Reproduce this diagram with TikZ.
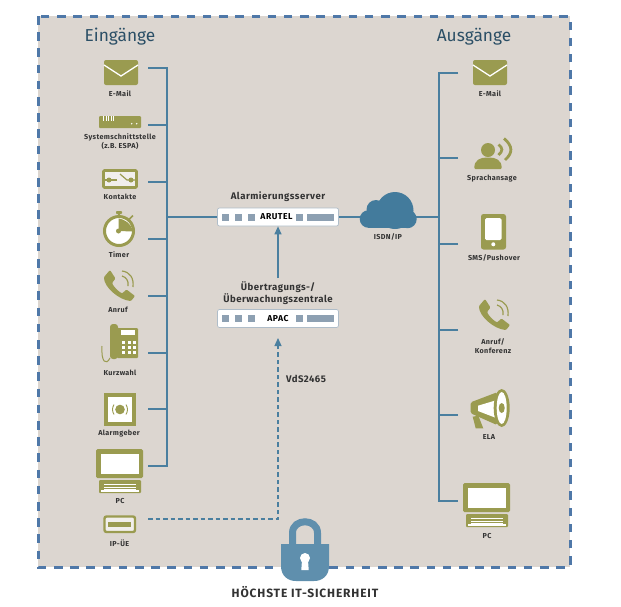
\documentclass[tikz,border=0pt]{standalone}
\usepackage{fontspec}
\setmainfont{Fira Sans}
\usetikzlibrary{arrows.meta}
\definecolor{bgcol}{HTML}{DCD6D0}
\definecolor{framecol}{HTML}{4F78A8}
\definecolor{linkcol}{HTML}{4A7F9F}
\definecolor{iconcol}{HTML}{9A9B50}
\definecolor{lockcol}{HTML}{5F8FAD}
\definecolor{cloudcol}{HTML}{437B9C}
\definecolor{titlecol}{HTML}{2B4F66}
\definecolor{slotcol}{HTML}{8DA0B2}
\definecolor{textcol}{HTML}{333333}
\tikzset{
    link/.style={draw=linkcol, line width=1.2pt},
    title/.style={font=\fontsize{17.3}{18}\selectfont, text=titlecol, inner sep=0pt},
    lab/.style={font=\fontsize{7.2}{9}\selectfont\bfseries\addfontfeature{LetterSpace=5}, text=textcol, align=center, inner sep=0pt, yshift=-0.8pt},
    midlab/.style={font=\fontsize{9.6}{11}\selectfont\bfseries\addfontfeature{LetterSpace=5}, text=textcol, align=center, inner sep=0pt, yshift=-1pt},
    server/.style={draw=slotcol!70, line width=0.7pt, fill=white, rounded corners=2pt, minimum width=121pt, minimum height=18pt, inner sep=0pt, font=\fontsize{8.6}{9}\selectfont\bfseries\addfontfeature{LetterSpace=6}},
    slots/.pic={
        \fill[slotcol] (-56,-3.5) rectangle ++(7,7);
        \fill[slotcol] (-43,-3.5) rectangle ++(7,7);
        \fill[slotcol] (-30,-3.5) rectangle ++(7,7);
        \fill[slotcol] (18,-3.5) rectangle ++(7,7);
        \fill[slotcol] (29,-3.5) rectangle ++(27,7);
    },
    mailicon/.pic={
        \fill[iconcol, rounded corners=2pt] (0,0) rectangle (34,25);
        \draw[white, line width=1.3pt] (0,5) -- (17,16) -- (34,5);
    },
    phoneicon/.pic={
        \fill[iconcol, rounded corners=1pt] (6,0) -- (11.5,8.5) -- (8,13) .. controls (10,17) and (14,21) .. (18,23.5)
            -- (22.5,19.5) -- (31,26) -- (27,31) .. controls (15,30) and (0,17) .. (0,7) -- cycle;
        \draw[iconcol, line width=1.2pt] (18,1) .. controls (26,2) and (30,8) .. (29,17);
        \draw[iconcol, line width=1.2pt] (18,6) .. controls (22,7) and (25,11) .. (24,16);
    },
    pcicon/.pic={
        \fill[iconcol, rounded corners=1.5pt] (0,0) rectangle (47,29);
        \fill[white] (4.5,4.5) rectangle (42.5,25);
        \fill[iconcol, rounded corners=1pt] (3,31) rectangle (45,44);
        \fill[white] (8,35) rectangle (40,36);
        \fill[white] (8,37.5) rectangle (40,38.5);
        \fill[white] (8,40) rectangle (40,41);
        \fill[white] (5,41) rectangle (43,42.5);
    },
}
\begin{document}
\begin{tikzpicture}[x=1pt, y=-1pt]
    \useasboundingbox (0,0) rectangle (621,606);

    % fond et cadre
    \fill[bgcol] (38,16) rectangle (570,567);
    \draw[framecol, line width=3pt, dash pattern=on 8.5pt off 7.7pt] (38,16) rectangle (570,567);

    \node[title] (inTitle) at (120,36.5) {Eingänge};
    \node[title] (outTitle) at (474,36.5) {Ausgänge};

    % points de connexion
    \coordinate (inMail) at (148,68);
    \coordinate (inSys) at (148,125);
    \coordinate (inKontakt) at (148,182);
    \coordinate (inTimer) at (148,239);
    \coordinate (inAnruf) at (148,296);
    \coordinate (inKurz) at (148,353);
    \coordinate (inAlarm) at (148,409);
    \coordinate (inPC) at (148,466);
    \coordinate (inIP) at (148,519);
    \coordinate (inSpine) at (167,217);

    \coordinate (outMail) at (458,73);
    \coordinate (outSprache) at (458,158);
    \coordinate (outSMS) at (458,244);
    \coordinate (outAnruf) at (458,330);
    \coordinate (outELA) at (458,415);
    \coordinate (outPC) at (458,501);
    \coordinate (outSpine) at (439,217);

    \coordinate (cloudLeft) at (362,217);
    \coordinate (cloudRight) at (415,217);
    \coordinate (apacTop) at (278,278);
    \coordinate (apacIn) at (278,338);
    \coordinate (dashCorner) at (278,519);

    % serveurs
    \node[midlab] (arutelLab) at (278,196) {Alarmierungsserver};
    \node[server] (arutel) at (278,217) {\hspace*{-3pt}ARUTEL};
    \pic at (arutel.center) {slots};
    \node[midlab] (apacLab) at (278,292.5) {Übertragungs-/\\Überwachungszentrale};
    \node[server] (apac) at (278,318.5) {APAC};
    \pic at (apac.center) {slots};
    \node[midlab] (vds) at (306,378) {VdS2465};

    % liens entrees
    \draw[link] (inMail) -- (inMail -| inSpine) -- (inPC -| inSpine) -- (inPC);
    \draw[link] (inSys) -- (inSys -| inSpine);
    \draw[link] (inKontakt) -- (inKontakt -| inSpine);
    \draw[link] (inTimer) -- (inTimer -| inSpine);
    \draw[link] (inAnruf) -- (inAnruf -| inSpine);
    \draw[link] (inKurz) -- (inKurz -| inSpine);
    \draw[link] (inAlarm) -- (inAlarm -| inSpine);
    \draw[link] (inSpine) -- (arutel.west);

    % liens sorties
    \draw[link] (arutel.east) -- (cloudLeft);
    \draw[link] (cloudRight) -- (outSpine);
    \draw[link] (outMail) -- (outMail -| outSpine) -- (outPC -| outSpine) -- (outPC);
    \draw[link] (outSprache) -- (outSprache -| outSpine);
    \draw[link] (outSMS) -- (outSMS -| outSpine);
    \draw[link] (outAnruf) -- (outAnruf -| outSpine);
    \draw[link] (outELA) -- (outELA -| outSpine);

    % liens vers les serveurs
    \draw[link, -{Triangle[length=8pt, width=7pt]}] (apacTop) -- (arutel.south);
    \draw[link, dash pattern=on 4.5pt off 3pt, -{Triangle[length=8pt, width=7pt]}] (inIP) -- (dashCorner) -- (apacIn);

    % nuage
    \fill[cloudcol] (368.5,219) circle (8.8);
    \fill[cloudcol] (407.5,219) circle (9.2);
    \fill[cloudcol] (376,209.5) circle (9.5);
    \fill[cloudcol] (395,210.5) circle (18.5);
    \fill[cloudcol] (368.5,215) rectangle (407.5,228);
    \node[lab] (cloudLab) at (388,236) {ISDN/IP};

    % icones entrees
    \pic at (104,60) {mailicon};
    \node[lab] (inMailLab) at (120,93) {E-Mail};

    \fill[iconcol, rounded corners=1pt] (99,116) rectangle (141,128);
    \fill[white] (103,116) rectangle (104,121);
    \fill[white] (105.5,116) rectangle (106.5,121);
    \fill[white] (108,116) rectangle (109,121);
    \fill[white] (110.5,116) rectangle (111.5,121);
    \fill[white] (112.5,116) rectangle (113.5,121);
    \fill[white] (131.7,123.7) circle (0.8);
    \fill[white] (136.7,123.7) circle (0.8);
    \node[lab] (inSysLab) at (120,141) {Systemschnittstelle\\(z.B. ESPA)};

    \draw[iconcol, line width=2.6pt, rounded corners=1pt, fill=bgcol!40] (103.5,170.5) rectangle (136.5,187.5);
    \draw[iconcol, line width=1.2pt] (104,180) -- (117,180);
    \draw[iconcol, line width=1.2pt] (120,174) -- (127,180) -- (136,180);
    \fill[iconcol] (109,180) circle (2.5);
    \fill[iconcol] (131,180) circle (2.5);
    \node[lab] (inKontaktLab) at (120,196) {Kontakte};

    \fill[iconcol, rounded corners=0.8pt] (116,211) rectangle (122,214);
    \fill[iconcol] (118,213) rectangle (120,216);
    \draw[iconcol, line width=1.6pt] (129.5,219) -- (133,215.5);
    \draw[iconcol, line width=3pt, fill=white] (119,231) circle (14.5);
    \fill[iconcol] (118.5,231) -- (118.5,218.5) .. controls (124,219) and (131,223) .. (133,231.5) -- cycle;
    \fill[iconcol] (118.5,231) circle (2.5);
    \node[lab] (inTimerLab) at (119,254) {Timer};

    \pic at (104,270) {phoneicon};
    \node[lab] (inAnrufLab) at (118,309) {Anruf};

    \fill[iconcol, rounded corners=1pt] (117,328) rectangle (138,358);
    \fill[iconcol, rounded corners=3pt] (110,324) rectangle (118,359);
    \draw[iconcol, line width=1pt] (110,358) .. controls (106,366) and (101,362) .. (102,346);
    \fill[white] (120.5,330) rectangle (135,334.5);
    \fill[white] (122,341) rectangle (125,344);
    \fill[white] (128,341) rectangle (131,344);
    \fill[white] (133,341) rectangle (136,344);
    \fill[white] (122,346) rectangle (125,349);
    \fill[white] (128,346) rectangle (131,349);
    \fill[white] (133,346) rectangle (136,349);
    \fill[white] (122,351) rectangle (125,354);
    \fill[white] (128,351) rectangle (131,354);
    \fill[white] (133,351) rectangle (136,354);
    \node[lab] (inKurzLab) at (120,372) {Kurzwahl};

    \draw[iconcol, line width=4pt, fill=white] (106,395) rectangle (134,424);
    \fill[iconcol] (120,409.5) circle (4.8);
    \draw[iconcol, line width=0.9pt] (114,404.5) .. controls (112,408) and (112,411) .. (114,414.5);
    \draw[iconcol, line width=0.9pt] (126,404.5) .. controls (128,408) and (128,411) .. (126,414.5);
    \node[lab] (inAlarmLab) at (119,433) {Alarmgeber};

    \pic at (96,449) {pcicon};
    \node[lab] (inPCLab) at (120,500) {PC};

    \draw[iconcol, line width=2.4pt, rounded corners=2pt, fill=bgcol!40] (104.5,516.5) rectangle (135,532);
    \fill[iconcol] (108,522) rectangle (131,526.5);
    \node[lab] (inIPLab) at (119.5,542) {IP-ÜE};

    % icones sorties
    \pic at (473,60) {mailicon};
    \node[lab] (outMailLab) at (490,93) {E-Mail};

    \fill[iconcol] (488,150) circle (7);
    \fill[iconcol, rounded corners=1pt] (474.3,169) .. controls (474.3,160) and (480,157.5) .. (488,157.5) .. controls (496,157.5) and (501.7,160) .. (501.7,169) -- cycle;
    \draw[iconcol, line width=2.8pt] (498.5,144.5) .. controls (503,148) and (503,151) .. (498.5,155);
    \draw[iconcol, line width=2.8pt] (504,138.5) .. controls (513,146) and (513,153) .. (505,160);
    \node[lab] (outSpracheLab) at (492,178) {Sprachansage};

    \fill[iconcol, rounded corners=2.5pt] (481,214) rectangle (506,249.5);
    \fill[white, rounded corners=1.5pt] (485,218) rectangle (501.5,240);
    \fill[white] (493.3,244.3) circle (2);
    \node[lab] (outSMSLab) at (494,257) {SMS/Pushover};

    \pic at (479,299) {phoneicon};
    \node[lab] (outAnrufLab) at (493,345.5) {Anruf/\\Konferenz};

    \fill[iconcol, rounded corners=1.5pt] (470.7,402.3) -- (497,392.3) -- (497,425) -- (470.7,413.3) -- cycle;
    \fill[white] (478,405.7) -- (497,400) -- (497,418.3) -- (478,411) -- cycle;
    \fill[iconcol] (472.7,416.7) -- (478.3,415.7) -- (483.3,428.3) -- (475.7,428.3) -- cycle;
    \fill[iconcol] (501.7,408) ellipse (8 and 19);
    \fill[white] (501.7,408) ellipse (5 and 16);
    \fill[iconcol] (501.7,408) ellipse (3 and 5);
    \node[lab] (outELALab) at (489,436) {ELA};

    \pic at (463,483) {pcicon};
    \node[lab] (outPCLab) at (487,535) {PC};

    % cadenas
    \draw[lockcol, line width=7pt] (292.5,546) -- (292.5,533) .. controls (292.5,518) and (317.5,518) .. (317.5,533) -- (317.5,546);
    \fill[lockcol] (281,544) -- (329,544) -- (329,566) .. controls (329,576) and (322,581) .. (314,581) -- (296,581) .. controls (288,581) and (281,576) .. (281,566) -- cycle;
    \fill[white] (305,558) circle (5);
    \fill[white] (302,560) -- (308,560) -- (308.7,570) -- (301.3,570) -- cycle;

    \node[font=\fontsize{12}{13}\selectfont\bfseries\addfontfeature{LetterSpace=7}, text=textcol, inner sep=0pt] (secure) at (305,592) {HÖCHSTE IT-SICHERHEIT};
\end{tikzpicture}
\end{document}
